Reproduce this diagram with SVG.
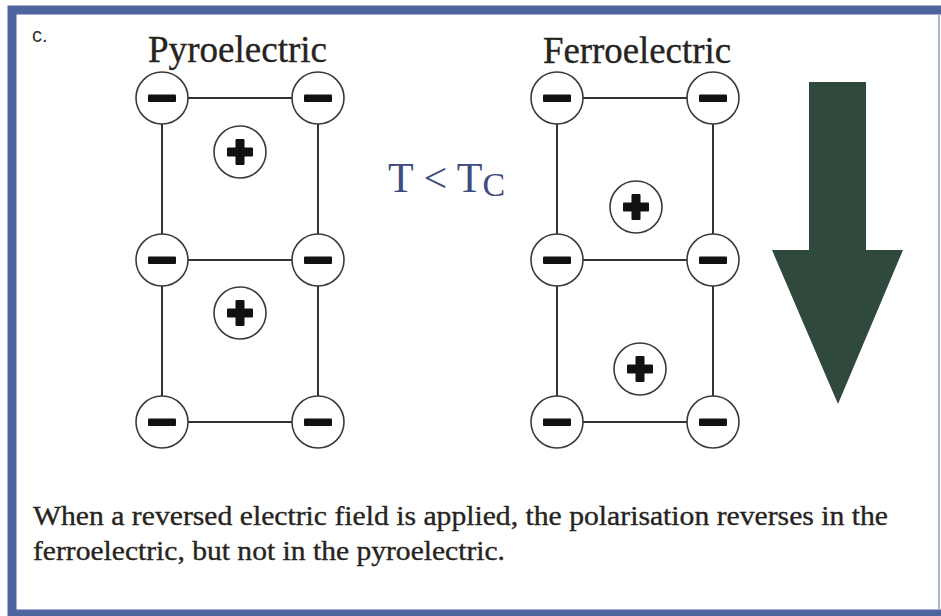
<svg xmlns="http://www.w3.org/2000/svg" xmlns:xlink="http://www.w3.org/1999/xlink" width="941" height="616" viewBox="0 0 941 616">
  <style>
    .serif { font-family: "Liberation Serif", "Times New Roman", serif; fill: #262320; stroke: #262320; stroke-width: 0.35; }
    .title { font-size: 37px; }
    .caption { font-size: 28px; }
    .tc { font-family: "Liberation Serif", "Times New Roman", serif; font-size: 42px; fill: #3f4c80; }
    .label { font-family: "Liberation Sans", Arial, sans-serif; font-size: 20px; fill: #333; }
    .bond { stroke: #333; stroke-width: 2; fill: none; }
    .ion { fill: #fff; stroke: #3a3a3a; stroke-width: 1.6; }
    .glyph { fill: #111; }
  </style>
  <defs>
    <g id="neg">
      <circle class="ion" cx="0" cy="0" r="26"/>
      <rect class="glyph" x="-14" y="-3.5" width="28" height="7.5" rx="1"/>
    </g>
    <g id="pos">
      <circle class="ion" cx="0" cy="0" r="26"/>
      <rect class="glyph" x="-13" y="-4.5" width="26" height="9" rx="1"/>
      <rect class="glyph" x="-4.5" y="-13" width="9" height="26" rx="1"/>
    </g>
  </defs>

  <rect x="0" y="0" width="941" height="616" fill="#fff"/>
  <!-- frame -->
  <rect x="12" y="10" width="940" height="604" fill="#fff" stroke="#4d659c" stroke-width="9"/>
  <line x1="939" y1="15" x2="939" y2="610" stroke="#a9b6d3" stroke-width="2"/>

  <text class="label" x="32" y="42">c.</text>

  <!-- titles -->
  <text class="serif title" x="148" y="62" textLength="179" lengthAdjust="spacingAndGlyphs">Pyroelectric</text>
  <text class="serif title" x="543" y="63" textLength="188" lengthAdjust="spacingAndGlyphs">Ferroelectric</text>
  <text class="tc" x="388" y="192">T &lt; T<tspan font-size="34" dy="4">C</tspan></text>

  <!-- connectors -->
  <g id="connectors">
    <line class="bond" x1="162" y1="98" x2="318" y2="98"/>
    <line class="bond" x1="162" y1="260" x2="318" y2="260"/>
    <line class="bond" x1="162" y1="422" x2="318" y2="422"/>
    <line class="bond" x1="162" y1="98" x2="162" y2="422"/>
    <line class="bond" x1="318" y1="98" x2="318" y2="422"/>
    <line class="bond" x1="557" y1="98" x2="713" y2="98"/>
    <line class="bond" x1="557" y1="260" x2="713" y2="260"/>
    <line class="bond" x1="557" y1="422" x2="713" y2="422"/>
    <line class="bond" x1="557" y1="98" x2="557" y2="422"/>
    <line class="bond" x1="713" y1="98" x2="713" y2="422"/>
  </g>

  <!-- pyroelectric ions -->
  <g id="pyro-n1"><use xlink:href="#neg" x="162" y="98"/></g>
  <g id="pyro-n2"><use xlink:href="#neg" x="318" y="98"/></g>
  <g id="pyro-n3"><use xlink:href="#neg" x="162" y="260"/></g>
  <g id="pyro-n4"><use xlink:href="#neg" x="318" y="260"/></g>
  <g id="pyro-n5"><use xlink:href="#neg" x="162" y="422"/></g>
  <g id="pyro-n6"><use xlink:href="#neg" x="318" y="422"/></g>
  <g id="pyro-p1"><use xlink:href="#pos" x="240" y="152"/></g>
  <g id="pyro-p2"><use xlink:href="#pos" x="240" y="313"/></g>

  <!-- ferroelectric ions -->
  <g id="ferro-n1"><use xlink:href="#neg" x="557" y="98"/></g>
  <g id="ferro-n2"><use xlink:href="#neg" x="713" y="98"/></g>
  <g id="ferro-n3"><use xlink:href="#neg" x="557" y="260"/></g>
  <g id="ferro-n4"><use xlink:href="#neg" x="713" y="260"/></g>
  <g id="ferro-n5"><use xlink:href="#neg" x="557" y="422"/></g>
  <g id="ferro-n6"><use xlink:href="#neg" x="713" y="422"/></g>
  <g id="ferro-p1"><use xlink:href="#pos" x="636" y="207"/></g>
  <g id="ferro-p2"><use xlink:href="#pos" x="640" y="369"/></g>

  <!-- field arrow -->
  <g id="field-arrow">
    <path d="M809 82 H866 V250 H903 L838 404 L772 250 H809 Z" fill="#2f4a3c"/>
  </g>

  <!-- caption -->
  <text class="serif caption" x="33" y="525" textLength="855" lengthAdjust="spacingAndGlyphs">When a reversed electric field is applied, the polarisation reverses in the</text>
  <text class="serif caption" x="33" y="560" textLength="472" lengthAdjust="spacingAndGlyphs">ferroelectric, but not in the pyroelectric.</text>
</svg>
